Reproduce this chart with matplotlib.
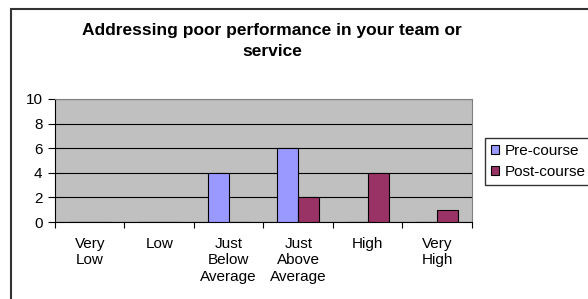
import numpy as np
import matplotlib.pyplot as plt
from matplotlib.patches import Rectangle

plt.rcParams['font.family'] = ['Liberation Sans', 'DejaVu Sans']

categories = ['Very\nLow', 'Low', 'Just\nBelow\nAverage', 'Just\nAbove\nAverage', 'High', 'Very\nHigh']
pre_course = [0, 0, 4, 6, 0, 0]
post_course = [0, 0, 0, 2, 4, 1]

fig = plt.figure(figsize=(5.88, 2.99), dpi=100)
ax = fig.add_axes([0.0935, 0.2575, 0.7092, 0.4115])

x = np.arange(len(categories))
w = 0.3
ax.bar(x - w/2, pre_course, w, color='#9999FF', edgecolor='black', linewidth=0.8, label='Pre-course', zorder=3)
ax.bar(x + w/2, post_course, w, color='#993366', edgecolor='black', linewidth=0.8, label='Post-course', zorder=3)

ax.set_facecolor('#C0C0C0')
ax.set_xlim(-0.5, 5.5)
ax.set_ylim(0, 10)
ax.set_yticks(np.arange(0, 11, 2))
ax.yaxis.grid(True, color='black', linewidth=0.8, zorder=1)
ax.set_axisbelow(True)

# ticks sit between the categories, labels under the middle
ax.set_xticks(np.arange(-0.5, 6, 1))
ax.set_xticklabels([])
ax.set_xticks(x, minor=True)
ax.set_xticklabels(categories, minor=True, fontsize=11, linespacing=1.2)
ax.tick_params(axis='x', which='minor', length=0, pad=11)
ax.tick_params(axis='x', which='major', length=4, width=0.8, direction='out')
ax.tick_params(axis='y', length=5, width=0.8, labelsize=11, pad=4)

ax.spines['left'].set_color('black')
ax.spines['bottom'].set_color('black')
ax.spines['top'].set_color('#808080')
ax.spines['right'].set_color('#808080')

fig.text(0.463, 1 - 41/299, 'Addressing poor performance in your team or\nservice',
         ha='center', va='center', fontsize=12.5, fontweight='bold', linespacing=1.5)

leg = fig.legend(loc='upper left', bbox_to_anchor=(485/588, 1 - 138/299), fontsize=11,
                 frameon=True, fancybox=False, edgecolor='black', borderaxespad=0,
                 handlelength=0.5, handleheight=0.5, handletextpad=0.4, labelspacing=0.45,
                 borderpad=0.4)
leg.get_frame().set_linewidth(1)

# chart area border, runs off the right and bottom edges
fig.patches.append(Rectangle((10.5/588, -0.2), 1.2, 1.2 - 9/299, transform=fig.transFigure,
                             facecolor='none', edgecolor='#333333', linewidth=1.5))

plt.savefig('out.png', dpi=100)
